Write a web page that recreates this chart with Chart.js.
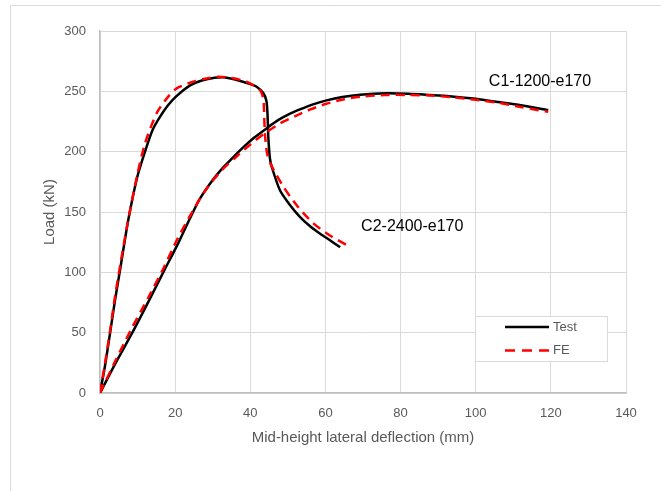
<!DOCTYPE html>
<html>
<head>
<meta charset="utf-8">
<script src="https://cdn.jsdelivr.net/npm/chart.js@4"></script>
<style>
  body { margin: 0; background: #fff; }
  canvas { display: block; }
</style>
</head>
<body>
<canvas id="loadChart" width="661" height="491"></canvas>
<script>
// [deflection (mm), load (kN)]
const c2Test = [[0,0],[1.3,22],[2.7,50],[4,77],[5.5,105],[7.5,143],[10,180],[12.4,204],[14,218],[16,229],[18,238],[20.2,245.6],[24,255],[28.4,260],[32.8,261.6],[36.4,259.4],[40,256],[41.7,253.8],[43.5,248.4],[44.3,242],[44.6,230],[44.8,212],[45.2,195],[45.7,187.5],[47.9,168],[50.5,156],[53.2,146],[56,138],[58.6,132],[61.5,126],[63.9,120.7]];
const c2FE = [[0,0],[1.3,24],[2.7,52],[4,80],[5.5,108],[7.3,140],[10,182],[12,207],[15.1,232],[18,245],[20.4,252.5],[24.8,258],[28,260.5],[31.4,262],[35,261],[39,258],[42.6,251],[43.5,243],[43.7,230],[43.9,215],[44.5,198],[45.7,188],[48.8,171],[52.5,155],[56.8,140.6],[61,131],[65.7,122.6]];
const c1Test = [[0,0],[4,24],[8.6,50],[13.1,77],[17,101],[20.8,124],[24,145],[26.6,161],[30,176.5],[32.8,187],[35.5,195.5],[38.1,203.5],[41,211.5],[44.4,219.5],[47.5,226.3],[50.6,231.5],[53.2,235],[56.5,239],[60.3,242.5],[64.5,245.3],[69.2,247.2],[76.3,248.4],[82,248],[87.8,247],[93,246],[99.4,244],[105,241.5],[112,238.5],[119.3,234.5]];
const c1FE = [[0,0],[4,26],[8,51],[13,80],[17,104],[20.5,127],[24,147],[27,163],[30,176],[33,186.5],[36,195],[40,206],[44,215.5],[48,223.5],[52,229.5],[56,235],[60,239.5],[65,243.5],[70,245.8],[76,247],[82,247],[88,246.5],[94,245],[100,243],[106,240.5],[112,237],[119.3,233]];

const xTicks = [0, 20, 40, 60, 80, 100, 120, 140];
const yTicks = [0, 50, 100, 150, 200, 250, 300];

const curveLabels = [
    { text: 'C1-1200-e170', x: 103.5, y: 258 },
    { text: 'C2-2400-e170', x: 69.5, y: 138 }
];

const legendItems = [
    { text: 'Test', color: '#000000', dash: [] },
    { text: 'FE', color: '#ff0000', dash: [10, 7] }
];

const toPoints = arr => arr.map(p => ({ x: p[0], y: p[1] }));

const testStyle = { borderColor: '#000000', borderWidth: 2.5, borderDash: [] };
const feStyle = { borderColor: '#ff0000', borderWidth: 2.5, borderDash: [9, 6] };

// frame, curve labels and legend box
const extras = {
    id: 'extras',
    beforeDraw(chart) {
        const ctx = chart.ctx;
        ctx.save();
        ctx.strokeStyle = '#d9d9d9';
        ctx.lineWidth = 1;
        ctx.beginPath();
        ctx.moveTo(10.5, 491);
        ctx.lineTo(10.5, 5.5);
        ctx.lineTo(661, 5.5);
        ctx.stroke();
        ctx.restore();
    },
    afterDraw(chart) {
        const ctx = chart.ctx;
        const xs = chart.scales.x, ys = chart.scales.y;
        ctx.save();
        ctx.font = '16px "Liberation Sans", Arial, sans-serif';
        ctx.fillStyle = '#000';
        ctx.textBaseline = 'middle';
        ctx.textAlign = 'left';
        curveLabels.forEach(l => {
            ctx.fillText(l.text, xs.getPixelForValue(l.x), ys.getPixelForValue(l.y));
        });

        // legend
        const bx = 475.5, by = 316.5, bw = 132, bh = 45;
        ctx.fillStyle = '#fff';
        ctx.fillRect(bx, by, bw, bh);
        ctx.strokeStyle = '#d9d9d9';
        ctx.lineWidth = 1;
        ctx.strokeRect(bx, by, bw, bh);
        ctx.font = '13px "Liberation Sans", Arial, sans-serif';
        legendItems.forEach((item, i) => {
            const y = 327 + i * 23.5;
            ctx.strokeStyle = item.color;
            ctx.lineWidth = 2.5;
            ctx.setLineDash(item.dash);
            ctx.beginPath();
            ctx.moveTo(505, y);
            ctx.lineTo(549, y);
            ctx.stroke();
            ctx.setLineDash([]);
            ctx.fillStyle = '#595959';
            ctx.fillText(item.text, 553, y);
        });
        ctx.restore();
    }
};

const ctx = document.getElementById('loadChart').getContext('2d');
const loadChart = new Chart(ctx, {
    type: 'scatter',
    data: {
        datasets: [
            { label: 'FE', data: toPoints(c1FE), ...feStyle },
            { label: 'FE', data: toPoints(c2FE), ...feStyle },
            { label: 'Test', data: toPoints(c1Test), ...testStyle },
            { label: 'Test', data: toPoints(c2Test), ...testStyle }
        ]
    },
    options: {
        responsive: false,
        devicePixelRatio: 1,
        animation: false,
        showLine: true,
        datasets: {
            scatter: {
                showLine: true,
                pointRadius: 0,
                tension: 0.25,
                fill: false
            }
        },
        layout: {
            padding: { left: 0, right: 35, top: 31, bottom: 0 }
        },
        plugins: {
            legend: { display: false },
            tooltip: { enabled: false }
        },
        scales: {
            x: {
                type: 'linear',
                min: 0,
                max: 140,
                afterBuildTicks: s => { s.ticks = xTicks.map(v => ({ value: v })); },
                afterFit: s => { s.height = 98; },
                ticks: {
                    color: '#595959',
                    padding: 13,
                    font: { family: '"Liberation Sans", Arial, sans-serif', size: 13 }
                },
                grid: { color: '#d9d9d9', lineWidth: 1, drawTicks: false },
                border: { color: '#bfbfbf', width: 1.5 },
                title: {
                    display: true,
                    text: 'Mid-height lateral deflection (mm)',
                    color: '#595959',
                    font: { family: '"Liberation Sans", Arial, sans-serif', size: 15 },
                    padding: { top: 0, bottom: 44 }
                }
            },
            y: {
                type: 'linear',
                min: 0,
                max: 300,
                afterBuildTicks: s => { s.ticks = yTicks.map(v => ({ value: v })); },
                afterFit: s => { s.width = 100; },
                ticks: {
                    color: '#595959',
                    padding: 14,
                    font: { family: '"Liberation Sans", Arial, sans-serif', size: 13 }
                },
                grid: { color: '#d9d9d9', lineWidth: 1, drawTicks: false },
                border: { color: '#bfbfbf', width: 1.5 },
                title: {
                    display: true,
                    text: 'Load (kN)',
                    color: '#595959',
                    font: { family: '"Liberation Sans", Arial, sans-serif', size: 15 },
                    padding: { top: 41, bottom: 0 }
                }
            }
        }
    },
    plugins: [extras]
});
</script>
</body>
</html>
